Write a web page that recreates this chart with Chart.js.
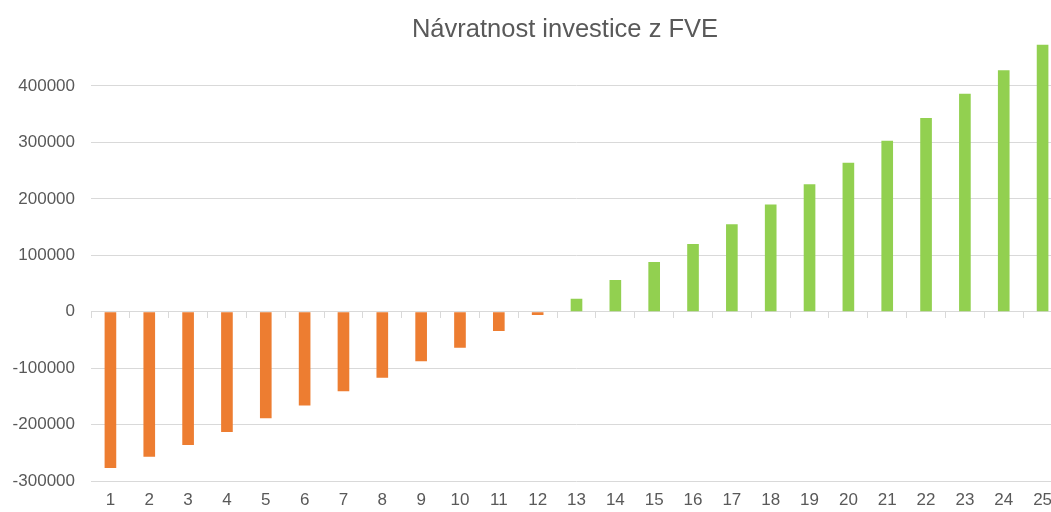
<!DOCTYPE html>
<html>
<head>
<meta charset="utf-8">
<script src="https://cdn.jsdelivr.net/npm/chart.js@4.4.1/dist/chart.umd.min.js"></script>
<style>
  html, body { margin: 0; padding: 0; background: #fff; overflow: hidden; }
  #wrap { position: relative; width: 1130px; height: 512px; }
</style>
</head>
<body>
<div id="wrap"><canvas id="graf"></canvas></div>
<script>
// roky 1..25 a kumulovana navratnost (Kc)
const roky = ['1','2','3','4','5','6','7','8','9','10','11','12','13','14','15','16','17','18','19','20','21','22','23','24','25'];
const navratnost = [-277000, -257000, -236000, -213000, -189000, -166000, -141000, -117000, -88000, -64000, -34000, -6000,
                    23000, 56000, 88000, 120000, 155000, 190000, 226000, 264000, 303000, 343000, 386000, 428000, 473000];
const osaY = [-300000, -200000, -100000, 0, 100000, 200000, 300000, 400000];

const oranzova = '#ED7D31';
const zelena = '#92D050';
const seda = '#595959';
const mrizka = '#D9D9D9';
const pismo = "'Liberation Sans', Arial, sans-serif";

const ctx = document.getElementById('graf').getContext('2d');

new Chart(ctx, {
  type: 'bar',
  data: {
    labels: roky,
    datasets: [{
      label: 'Návratnost',
      data: navratnost,
      backgroundColor: navratnost.map(v => v < 0 ? oranzova : zelena),
      borderWidth: 0,
      barPercentage: 0.3,
      categoryPercentage: 1
    }]
  },
  options: {
    responsive: true,
    maintainAspectRatio: false,
    animation: false,
    layout: { padding: 0 },
    plugins: {
      legend: { display: false },
      tooltip: { enabled: false },
      title: {
        display: true,
        text: 'Návratnost investice z FVE',
        color: seda,
        font: { family: pismo, size: 25.5, weight: 'normal', lineHeight: 1 },
        padding: { top: 17, bottom: 0 }
      }
    },
    scales: {
      x: {
        afterFit: osa => { osa.height = 31; },
        grid: { display: false, drawTicks: false },
        border: { display: false },
        ticks: { color: seda, font: { family: pismo, size: 17 }, padding: 9, maxRotation: 0 }
      },
      // osa v nule s carkami mezi kategoriemi
      x2: {
        type: 'category',
        position: { y: 0 },
        afterFit: osa => { osa.height = 0; },
        grid: { offset: true, drawOnChartArea: false, drawTicks: true, tickLength: 6, color: mrizka },
        border: { display: true, color: mrizka },
        ticks: { display: false }
      },
      y: {
        min: -300000,
        max: 477000,
        afterBuildTicks: osa => { osa.ticks = osaY.map(v => ({ value: v })); },
        afterFit: osa => { osa.width = 91; },
        grid: { color: mrizka, drawTicks: false },
        border: { display: false },
        ticks: { color: seda, font: { family: pismo, size: 17 }, padding: 16, callback: v => String(v) }
      },
      yR: {
        position: 'right',
        afterFit: osa => { osa.width = 68; },
        grid: { display: false },
        border: { display: false },
        ticks: { display: false }
      }
    }
  }
});
</script>
</body>
</html>
